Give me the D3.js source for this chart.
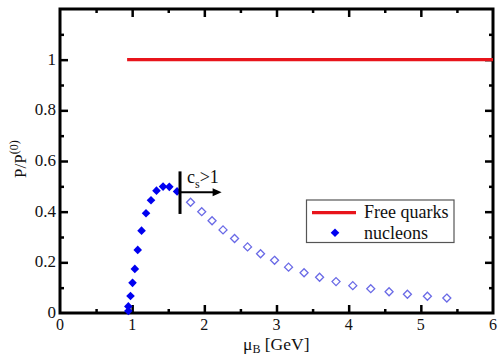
<!DOCTYPE html>
<html><head><meta charset="utf-8">
<script src="https://cdn.jsdelivr.net/npm/d3@7"></script>
<style>body{margin:0;background:#fff}svg{display:block}svg text{font-family:"Liberation Serif","DejaVu Serif",serif;fill:#111}</style>
</head><body><svg id="c" width="498" height="355"></svg>
<script>
const xTicks = [0,1,2,3,4,5,6];
const yTicks = [0,0.2,0.4,0.6,0.8,1];
const quarkMu = [0.93, 6];
const quarkP = [1, 1];
const muFilled = [0.947,0.947,0.977,1.005,1.037,1.077,1.13,1.192,1.261,1.337,1.428,1.515,1.622];
const pFilled  = [0.008,0.026,0.067,0.119,0.174,0.249,0.325,0.394,0.445,0.483,0.499,0.498,0.480];
const muOpen = [1.809,1.964,2.107,2.259,2.419,2.599,2.779,2.973,3.167,3.382,3.597,3.825,4.057,4.306,4.56,4.814,5.091,5.36];
const pOpen  = [0.437,0.400,0.364,0.328,0.294,0.261,0.234,0.208,0.181,0.159,0.141,0.124,0.108,0.096,0.084,0.074,0.066,0.059];
const csMu = 1.663, csLow = 0.391, csHigh = 0.559, csArrowP = 0.477, csArrowEnd = 2.24;

const FONT = '"Liberation Serif","DejaVu Serif",serif';
const svg = d3.select("#c");
const L=60,R=493,T=9,B=313;
const x = d3.scaleLinear().domain([0,6]).range([L,R]);
const y = d3.scaleLinear().domain([0,1.2]).range([B,T]);

const minorX = d3.range(0.5,6,1), minorY = d3.range(0.1,1.2,0.2);
function ax(gen, pos, major, minor){
  const g1 = svg.append("g").attr("transform",pos).call(gen.tickValues(major).tickSize(-8).tickFormat(""));
  const g2 = svg.append("g").attr("transform",pos).call(gen.tickValues(minor).tickSize(-4).tickFormat(""));
  [g1,g2].forEach(g=>{g.select(".domain").remove();g.selectAll("line").attr("stroke","#000").attr("stroke-width",2.5);});
}
const yMajor=[0.2,0.4,0.6,0.8,1], xMajor=[1,2,3,4,5];
ax(d3.axisBottom(x),`translate(0,${B})`,xMajor,minorX);
ax(d3.axisTop(x),`translate(0,${T})`,xMajor,minorX);
ax(d3.axisLeft(y),`translate(${L},0)`,yMajor,minorY);
ax(d3.axisRight(y),`translate(${R},0)`,yMajor,minorY);
svg.append("rect").attr("x",L).attr("y",T).attr("width",R-L).attr("height",B-T).attr("fill","none").attr("stroke","#000").attr("stroke-width",3);

svg.selectAll(".xl").data(xTicks).join("text").attr("font-family",FONT).attr("x",d=>x(d)).attr("y",B+17).attr("text-anchor","middle").attr("font-size",16).text(d=>d);
svg.selectAll(".yl").data(yTicks).join("text").attr("font-family",FONT).attr("x",L-4).attr("y",d=>y(d)+5).attr("text-anchor","end").attr("font-size",17).text(d=>d);

const xt = svg.append("text").attr("font-family",FONT).attr("x",243).attr("y",350).attr("font-size",17.5);
xt.append("tspan").text("μ");
xt.append("tspan").attr("font-size",12).attr("dy",3).text("B");
xt.append("tspan").attr("dy",-3).text(" [GeV]");
const yt = svg.append("text").attr("font-family",FONT).attr("transform","translate(26,178) rotate(-90)").attr("font-size",17);
yt.append("tspan").text("P/P");
yt.append("tspan").attr("font-size",12).attr("dy",-8).text("(0)");

svg.append("line").attr("x1",x(quarkMu[0])).attr("x2",x(quarkMu[1])).attr("y1",y(quarkP[0])).attr("y2",y(quarkP[1])).attr("stroke","#e8141b").attr("stroke-width",3.2);

const dia = r => `M0,${-r}L${r},0L0,${r}L${-r},0Z`;
svg.selectAll(".fd").data(d3.range(muFilled.length)).join("path")
  .attr("d",dia(4.3)).attr("transform",i=>`translate(${x(muFilled[i])},${y(pFilled[i])})`).attr("fill","#0000f0");
svg.selectAll(".od").data(d3.range(muOpen.length)).join("path")
  .attr("d",dia(4)).attr("transform",i=>`translate(${x(muOpen[i])},${y(pOpen[i])})`).attr("fill","none").attr("stroke","#6a6ae6").attr("stroke-width",1.3);

svg.append("line").attr("x1",x(csMu)).attr("x2",x(csMu)).attr("y1",y(csLow)).attr("y2",y(csHigh)).attr("stroke","#000").attr("stroke-width",3);
svg.append("line").attr("x1",x(csMu)).attr("x2",x(csArrowEnd)-6).attr("y1",y(csArrowP)).attr("y2",y(csArrowP)).attr("stroke","#000").attr("stroke-width",2);
svg.append("path").attr("d",`M${x(csArrowEnd)},${y(csArrowP)} l-9,-4 l0,8 z`).attr("fill","#000");
const ct = svg.append("text").attr("font-family",FONT).attr("x",x(csMu)+7).attr("y",y(csArrowP)-9).attr("font-size",18);
ct.append("tspan").text("c");
ct.append("tspan").attr("font-size",12).attr("dy",5).text("s");
ct.append("tspan").attr("dy",-5).text(">1");

const lg = svg.append("g");
lg.append("rect").attr("x",306.5).attr("y",200).attr("width",147.5).attr("height",42.5).attr("fill","#fff").attr("stroke","#555").attr("stroke-width",1.2);
lg.append("line").attr("x1",312).attr("x2",356).attr("y1",212.7).attr("y2",212.7).attr("stroke","#e8141b").attr("stroke-width",3.2);
lg.append("text").attr("font-family",FONT).attr("x",364).attr("y",218).attr("font-size",18).text("Free quarks");
lg.append("path").attr("d",dia(4.3)).attr("transform","translate(335,232.7)").attr("fill","#0000f0");
lg.append("text").attr("font-family",FONT).attr("x",364).attr("y",238.5).attr("font-size",18).text("nucleons");
</script></body></html>
